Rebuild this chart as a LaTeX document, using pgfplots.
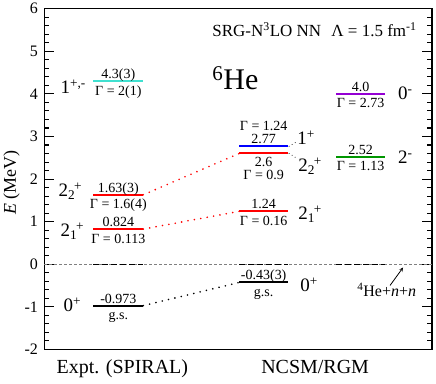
\documentclass[border=0pt]{standalone}
\usepackage{pgfplots}
\pgfplotsset{compat=1.18}
\usepackage{fontspec}
\setmainfont{Liberation Serif}
\definecolor{lvlcyan}{RGB}{64,224,208}
\definecolor{lvlviolet}{RGB}{148,0,211}
\definecolor{lvlgreen}{RGB}{0,150,0}
\begin{document}
\begin{tikzpicture}
\begin{axis}[
    scale only axis, width=388pt, height=341pt,
    xmin=0, xmax=388, ymin=-2, ymax=6,
    xtick=\empty,
    ytick={-2,-1,0,1,2,3,4,5,6}, yticklabels={-2,-1,0,1,2,3,4,5,6},
    minor y tick num=4,
    tick align=inside,
    major tick length=10pt, minor tick length=5pt,
    ytick style={black, line width=0.8pt},
    yticklabel style={font=\fontsize{16}{19}\selectfont, xshift=-3pt},
    ylabel={\textit{E} (MeV)},
    ylabel style={font=\fontsize{18}{22}\selectfont, at={(axis description cs:-0.085,0.49)}, anchor=center},
    axis line style={line width=1.2pt},
    clip=false,
    unbounded coords=jump,
]
% tick marks on both sides (x unit = 1pt)
\addplot[black, line width=0.9pt] coordinates {
 (0,-1) (10,-1) (nan,nan) (0,0) (10,0) (nan,nan) (0,1) (10,1) (nan,nan)
 (0,2) (10,2) (nan,nan) (0,3) (10,3) (nan,nan) (0,4) (10,4) (nan,nan) (0,5) (10,5) (nan,nan)
 (378,-1) (388,-1) (nan,nan) (378,0) (388,0) (nan,nan) (378,1) (388,1) (nan,nan)
 (378,2) (388,2) (nan,nan) (378,3) (388,3) (nan,nan) (378,4) (388,4) (nan,nan) (378,5) (388,5)
};
\addplot[black, line width=0.9pt] table[x=x, y=y] {
x y
0 -1.8
5 -1.8
nan nan
0 -1.6
5 -1.6
nan nan
0 -1.4
5 -1.4
nan nan
0 -1.2
5 -1.2
nan nan
0 -0.8
5 -0.8
nan nan
0 -0.6
5 -0.6
nan nan
0 -0.4
5 -0.4
nan nan
0 -0.2
5 -0.2
nan nan
0 0.2
5 0.2
nan nan
0 0.4
5 0.4
nan nan
0 0.6
5 0.6
nan nan
0 0.8
5 0.8
nan nan
0 1.2
5 1.2
nan nan
0 1.4
5 1.4
nan nan
0 1.6
5 1.6
nan nan
0 1.8
5 1.8
nan nan
0 2.2
5 2.2
nan nan
0 2.4
5 2.4
nan nan
0 2.6
5 2.6
nan nan
0 2.8
5 2.8
nan nan
0 3.2
5 3.2
nan nan
0 3.4
5 3.4
nan nan
0 3.6
5 3.6
nan nan
0 3.8
5 3.8
nan nan
0 4.2
5 4.2
nan nan
0 4.4
5 4.4
nan nan
0 4.6
5 4.6
nan nan
0 4.8
5 4.8
nan nan
0 5.2
5 5.2
nan nan
0 5.4
5 5.4
nan nan
0 5.6
5 5.6
nan nan
0 5.8
5 5.8
nan nan
383 -1.8
388 -1.8
nan nan
383 -1.6
388 -1.6
nan nan
383 -1.4
388 -1.4
nan nan
383 -1.2
388 -1.2
nan nan
383 -0.8
388 -0.8
nan nan
383 -0.6
388 -0.6
nan nan
383 -0.4
388 -0.4
nan nan
383 -0.2
388 -0.2
nan nan
383 0.2
388 0.2
nan nan
383 0.4
388 0.4
nan nan
383 0.6
388 0.6
nan nan
383 0.8
388 0.8
nan nan
383 1.2
388 1.2
nan nan
383 1.4
388 1.4
nan nan
383 1.6
388 1.6
nan nan
383 1.8
388 1.8
nan nan
383 2.2
388 2.2
nan nan
383 2.4
388 2.4
nan nan
383 2.6
388 2.6
nan nan
383 2.8
388 2.8
nan nan
383 3.2
388 3.2
nan nan
383 3.4
388 3.4
nan nan
383 3.6
388 3.6
nan nan
383 3.8
388 3.8
nan nan
383 4.2
388 4.2
nan nan
383 4.4
388 4.4
nan nan
383 4.6
388 4.6
nan nan
383 4.8
388 4.8
nan nan
383 5.2
388 5.2
nan nan
383 5.4
388 5.4
nan nan
383 5.6
388 5.6
nan nan
383 5.8
388 5.8
};

% threshold line
\addplot[gray, line width=0.8pt, dash pattern=on 3pt off 2pt] coordinates {(0,0) (388,0)};
\addplot[black, line width=1pt, dash pattern=on 6pt off 3pt] coordinates {(49,0) (99,0)};
\addplot[black, line width=1pt, dash pattern=on 6pt off 3pt] coordinates {(195,0) (244,0)};
\addplot[black, line width=1pt, dash pattern=on 6pt off 3pt] coordinates {(292,0) (341,0)};

% Expt. (SPIRAL)
\addplot[lvlcyan, line width=2pt] coordinates {(49,4.3) (99,4.3)};
\addplot[red, line width=2pt] coordinates {(49,1.63) (99,1.63)};
\addplot[red, line width=2pt] coordinates {(49,0.824) (99,0.824)};
\addplot[black, line width=2pt] coordinates {(49,-0.973) (99,-0.973)};

% NCSM/RGM
\addplot[blue, line width=2pt] coordinates {(195,2.77) (244,2.77)};
\addplot[red, line width=2pt] coordinates {(195,2.6) (244,2.6)};
\addplot[red, line width=2pt] coordinates {(195,1.24) (244,1.24)};
\addplot[black, line width=2pt] coordinates {(195,-0.43) (244,-0.43)};
\addplot[lvlviolet, line width=2pt] coordinates {(292,4.0) (341,4.0)};
\addplot[lvlgreen, line width=2pt] coordinates {(292,2.52) (341,2.52)};

% connectors
\addplot[red, line width=1.8pt, dash pattern=on 0pt off 6.5pt, line cap=round] coordinates {(99,1.63) (195,2.6)};
\addplot[red, line width=1.8pt, dash pattern=on 0pt off 6.5pt, line cap=round] coordinates {(99,0.824) (195,1.24)};
\addplot[black, line width=1.8pt, dash pattern=on 0pt off 6.5pt, line cap=round] coordinates {(99,-0.973) (195,-0.43)};
\addplot[black, line width=1pt, dash pattern=on 0pt off 3.5pt, line cap=round] coordinates {(245,2.77) (253,2.88)};
\addplot[black, line width=1pt, dash pattern=on 0pt off 3.5pt, line cap=round] coordinates {(245,2.6) (253,2.48)};

\begin{scope}[
    num/.style={font=\fontsize{14}{16}\selectfont, inner sep=0pt, anchor=base},
    spin/.style={font=\fontsize{19}{22}\selectfont, inner sep=0pt, anchor=base west}]
% level values
\node[num, yshift=2.5pt] at (axis cs:74,4.3) {4.3(3)};
\node[num, yshift=-14pt] at (axis cs:74,4.3) {Γ = 2(1)};
\node[num, yshift=2.5pt] at (axis cs:74,1.63) {1.63(3)};
\node[num, yshift=-14pt] at (axis cs:74,1.63) {Γ = 1.6(4)};
\node[num, yshift=2.5pt] at (axis cs:74,0.824) {0.824};
\node[num, yshift=-14pt] at (axis cs:74,0.824) {Γ = 0.113};
\node[num, yshift=2.5pt] at (axis cs:74,-0.973) {-0.973};
\node[num, yshift=-14pt] at (axis cs:74,-0.973) {g.s.};

\node[num, yshift=16pt] at (axis cs:219.5,2.77) {Γ = 1.24};
\node[num, yshift=2.5pt] at (axis cs:219.5,2.77) {2.77};
\node[num, yshift=-13pt] at (axis cs:219.5,2.6) {2.6};
\node[num, yshift=-26.5pt] at (axis cs:219.5,2.6) {Γ = 0.9};
\node[num, yshift=2.5pt] at (axis cs:219.5,1.24) {1.24};
\node[num, yshift=-14pt] at (axis cs:219.5,1.24) {Γ = 0.16};
\node[num, yshift=2.5pt] at (axis cs:219.5,-0.43) {-0.43(3)};
\node[num, yshift=-14pt] at (axis cs:219.5,-0.43) {g.s.};
\node[num, yshift=2.5pt] at (axis cs:316.5,4.0) {4.0};
\node[num, yshift=-14pt] at (axis cs:316.5,4.0) {Γ = 2.73};
\node[num, yshift=2.5pt] at (axis cs:316.5,2.52) {2.52};
\node[num, yshift=-14pt] at (axis cs:316.5,2.52) {Γ = 1.13};

% spins
\node[spin] at (axis cs:16,4.0) {1\textsuperscript{+,-}};
\node[spin] at (axis cs:14,1.59) {2\textsubscript{2}\kern-1pt\textsuperscript{+}};
\node[spin] at (axis cs:16,0.65) {2\textsubscript{1}\kern-1pt\textsuperscript{+}};
\node[spin] at (axis cs:19,-1.11) {0\textsuperscript{+}};
\node[spin] at (axis cs:253,2.81) {1\textsuperscript{+}};
\node[spin] at (axis cs:254,2.17) {2\textsubscript{2}\kern-1pt\textsuperscript{+}};
\node[spin] at (axis cs:254,1.05) {2\textsubscript{1}\kern-1pt\textsuperscript{+}};
\node[spin] at (axis cs:256,-0.64) {0\textsuperscript{+}};
\node[spin] at (axis cs:354,3.86) {0\textsuperscript{-}};
\node[spin] at (axis cs:354,2.36) {2\textsuperscript{-}};
\end{scope}

% titles and column labels
\node[inner sep=0pt, anchor=base west, font=\fontsize{17}{20}\selectfont] at (axis cs:168,5.34)
    {SRG-N\textsuperscript{3}LO NN\hspace{0.6em}Λ = 1.5 fm\textsuperscript{-1}};
\node[inner sep=0pt, anchor=base west, font=\fontsize{30}{36}\selectfont] at (axis cs:168,4.10)
    {\textsuperscript{6}He};
\node[inner sep=0pt, anchor=base west, font=\fontsize{16}{19}\selectfont] at (axis cs:313,-0.76)
    {\textsuperscript{4}He+\textit{n}+\textit{n}};
\draw[-stealth, line width=0.8pt] (axis cs:346,-0.5) -- (axis cs:359,-0.08);
\node[inner sep=0pt, anchor=base, font=\fontsize{20}{24}\selectfont] at (axis cs:78,-2) [yshift=-24pt] {Expt. (SPIRAL)};
\node[inner sep=0pt, anchor=base, font=\fontsize{20}{24}\selectfont] at (axis cs:271,-2) [yshift=-24pt] {NCSM/RGM};
% page margins
\path (axis cs:0,-2) ++(-44pt,-34pt) (axis cs:388,6) ++(4pt,7pt);
\end{axis}
\end{tikzpicture}
\end{document}
